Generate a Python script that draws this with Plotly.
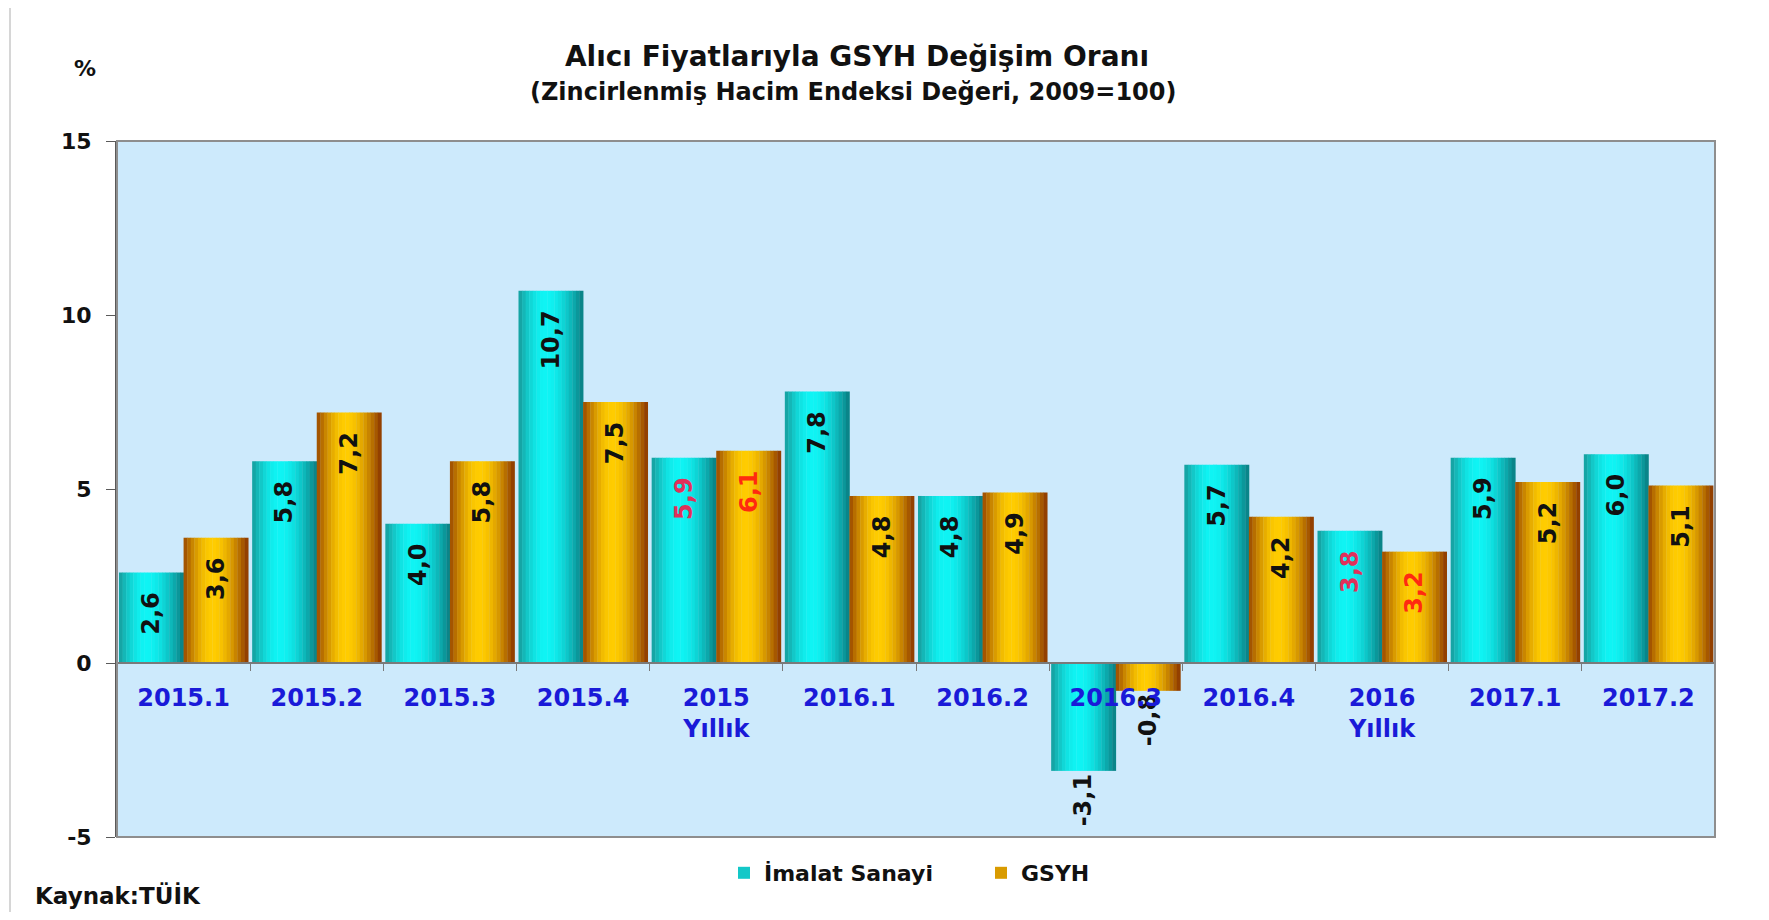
import math
import plotly.graph_objects as go

# ---------------- data ----------------
categories = ["2015.1", "2015.2", "2015.3", "2015.4", "2015<br>Yıllık",
              "2016.1", "2016.2", "2016.3", "2016.4", "2016<br>Yıllık",
              "2017.1", "2017.2"]
imalat_sanayi = [2.6, 5.8, 4.0, 10.7, 5.9, 7.8, 4.8, -3.1, 5.7, 3.8, 5.9, 6.0]
gsyh = [3.6, 7.2, 5.8, 7.5, 6.1, 4.8, 4.9, -0.8, 4.2, 3.2, 5.2, 5.1]
annual_flags = [False, False, False, False, True, False, False, False, False, True, False, False]
y_ticks = [-5, 0, 5, 10, 15]

# ---------------- style ----------------
FONT = "DejaVu Sans"
BAR_W = 0.485
N_SLICES = 18
PAGE_OFF = 8  # default body margin of the html page


def hex2rgb(h):
    h = h.lstrip("#")
    return tuple(int(h[i:i + 2], 16) for i in (0, 2, 4))


def mix(a, b, s):
    return tuple(round(a[i] + (b[i] - a[i]) * s) for i in range(3))


def gradient(left, peak, right, peak_pos, n):
    Lc, P, Rc = hex2rgb(left), hex2rgb(peak), hex2rgb(right)
    cols = []
    for k in range(n):
        t = (k + 0.5) / n
        if t <= peak_pos:
            s = math.sin(math.pi / 2 * t / peak_pos)
            c = mix(Lc, P, s)
        else:
            s = math.cos(math.pi / 2 * (t - peak_pos) / (1 - peak_pos))
            c = mix(Rc, P, s)
        cols.append("rgb(%d,%d,%d)" % c)
    return cols


cyan_cols = gradient("#169c9c", "#0ff4f4", "#0a7c80", 0.42, N_SLICES)
gold_cols = gradient("#9a4800", "#ffcc00", "#8a3400", 0.45, N_SLICES)

fig = go.Figure()


def add_series(values, cols, base_offset, name, legend_idx):
    w = BAR_W / N_SLICES
    for k in range(N_SLICES):
        fig.add_trace(go.Bar(
            x=categories, y=values,
            width=w * 1.1, offset=base_offset + k * w,
            marker=dict(color=cols[k], line=dict(width=0)),
            name=name, showlegend=(k == legend_idx), legendgroup=name,
            hoverinfo="skip",
        ))


add_series(imalat_sanayi, cyan_cols, -BAR_W, "İmalat Sanayi", 2)
add_series(gsyh, gold_cols, 0.0, "GSYH", 3)

NBSP = "\u00a0"


def label_text(v):
    s = ("%.1f" % v).replace(".", ",")
    return s + (NBSP * 2 if v >= 0 else "")


def add_labels(values, offset, annual_color):
    fig.add_trace(go.Bar(
        x=categories, y=values, width=BAR_W, offset=offset,
        marker=dict(color="rgba(0,0,0,0)", line=dict(width=0)),
        text=[label_text(v) for v in values],
        textposition=["inside" if v >= 0 else "outside" for v in values],
        insidetextanchor="end", textangle=-90, constraintext="none",
        textfont=dict(family=FONT, size=24, weight="bold",
                      color=[annual_color if a else "#111111" for a in annual_flags]),
        showlegend=False, hoverinfo="skip", cliponaxis=False,
    ))


add_labels(imalat_sanayi, -BAR_W, "#e0305a")
add_labels(gsyh, 0.0, "#ff2a10")

# page-pixel geometry of the reference
W, H = 1769 - 2 * PAGE_OFF, 920 - 2 * PAGE_OFF
P_LEFT, P_RIGHT, P_TOP, P_BOTTOM = 117, 1715, 141, 837
L = P_LEFT - PAGE_OFF
T = P_TOP - PAGE_OFF
R = W - (P_RIGHT - PAGE_OFF)
B = H - (P_BOTTOM - PAGE_OFF)
pw, ph = W - L - R, H - T - B


def px_x(x):
    return (x - P_LEFT) / pw


def px_y(y):
    return (P_BOTTOM - y) / ph


fig.update_layout(
    width=W, height=H,
    margin=dict(l=L, r=R, t=T, b=B),
    barmode="overlay",
    paper_bgcolor="white",
    plot_bgcolor="#cdeafc",
    font=dict(family=FONT, color="#111111"),
    showlegend=True,
    legend=dict(orientation="h", x=px_x(724), xanchor="left",
                y=px_y(873), yanchor="middle",
                font=dict(family=FONT, size=22, weight="bold", color="#111111"),
                entrywidth=212, bgcolor="rgba(0,0,0,0)"),
    title=dict(text="Alıcı Fiyatlarıyla GSYH Değişim Oranı",
               x=px_x(857), xref="paper", xanchor="center",
               y=1 - (56 - PAGE_OFF) / H, yanchor="middle",
               font=dict(family=FONT, size=28, weight="bold", color="#111111")),
    xaxis=dict(type="category", categoryorder="array", categoryarray=categories,
               range=[-0.5, len(categories) - 0.5],
               anchor="free", position=0.25,
               showline=True, linecolor="#7a7a7a", linewidth=2,
               ticks="outside", tickson="boundaries", ticklen=7, tickcolor="#7a7a7a",
               ticklabelstandoff=13,
               tickfont=dict(family=FONT, size=24, weight="bold", color="#1a1ad8"),
               showgrid=False, zeroline=False, fixedrange=True),
    yaxis=dict(range=[-5, 15], tickvals=y_ticks, ticktext=[str(v) for v in y_ticks],
               domain=[0, 1],
               showline=True, linecolor="#5a5a5a", linewidth=2,
               ticks="outside", ticklen=9, tickcolor="#5a5a5a",
               ticklabelstandoff=10,
               tickfont=dict(family=FONT, size=22, weight="bold", color="#111111"),
               showgrid=False, zeroline=False, fixedrange=True),
    shapes=[
        dict(type="rect", xref="paper", yref="paper", x0=0, x1=1, y0=0, y1=1,
             line=dict(color="#8e8e8e", width=2), layer="above"),
        dict(type="rect", xref="paper", yref="paper",
             x0=px_x(10), x1=px_x(1766), y0=px_y(916), y1=px_y(4),
             line=dict(color="#d6d6d6", width=2), layer="below"),
    ],
    annotations=[
        dict(text="(Zincirlenmiş Hacim Endeksi Değeri, 2009=100)",
             xref="paper", yref="paper", x=px_x(853), y=px_y(92),
             xanchor="center", yanchor="middle", showarrow=False,
             font=dict(family=FONT, size=24, weight="bold", color="#111111")),
        dict(text="%", xref="paper", yref="paper", x=px_x(85), y=px_y(68),
             xanchor="center", yanchor="middle", showarrow=False,
             font=dict(family=FONT, size=22, weight="bold", color="#111111")),
        dict(text="Kaynak:TÜİK", xref="paper", yref="paper", x=px_x(33), y=px_y(895),
             xanchor="left", yanchor="middle", showarrow=False,
             font=dict(family=FONT, size=23, weight="bold", color="#111111")),
    ],
)

fig.write_html("out.html")
